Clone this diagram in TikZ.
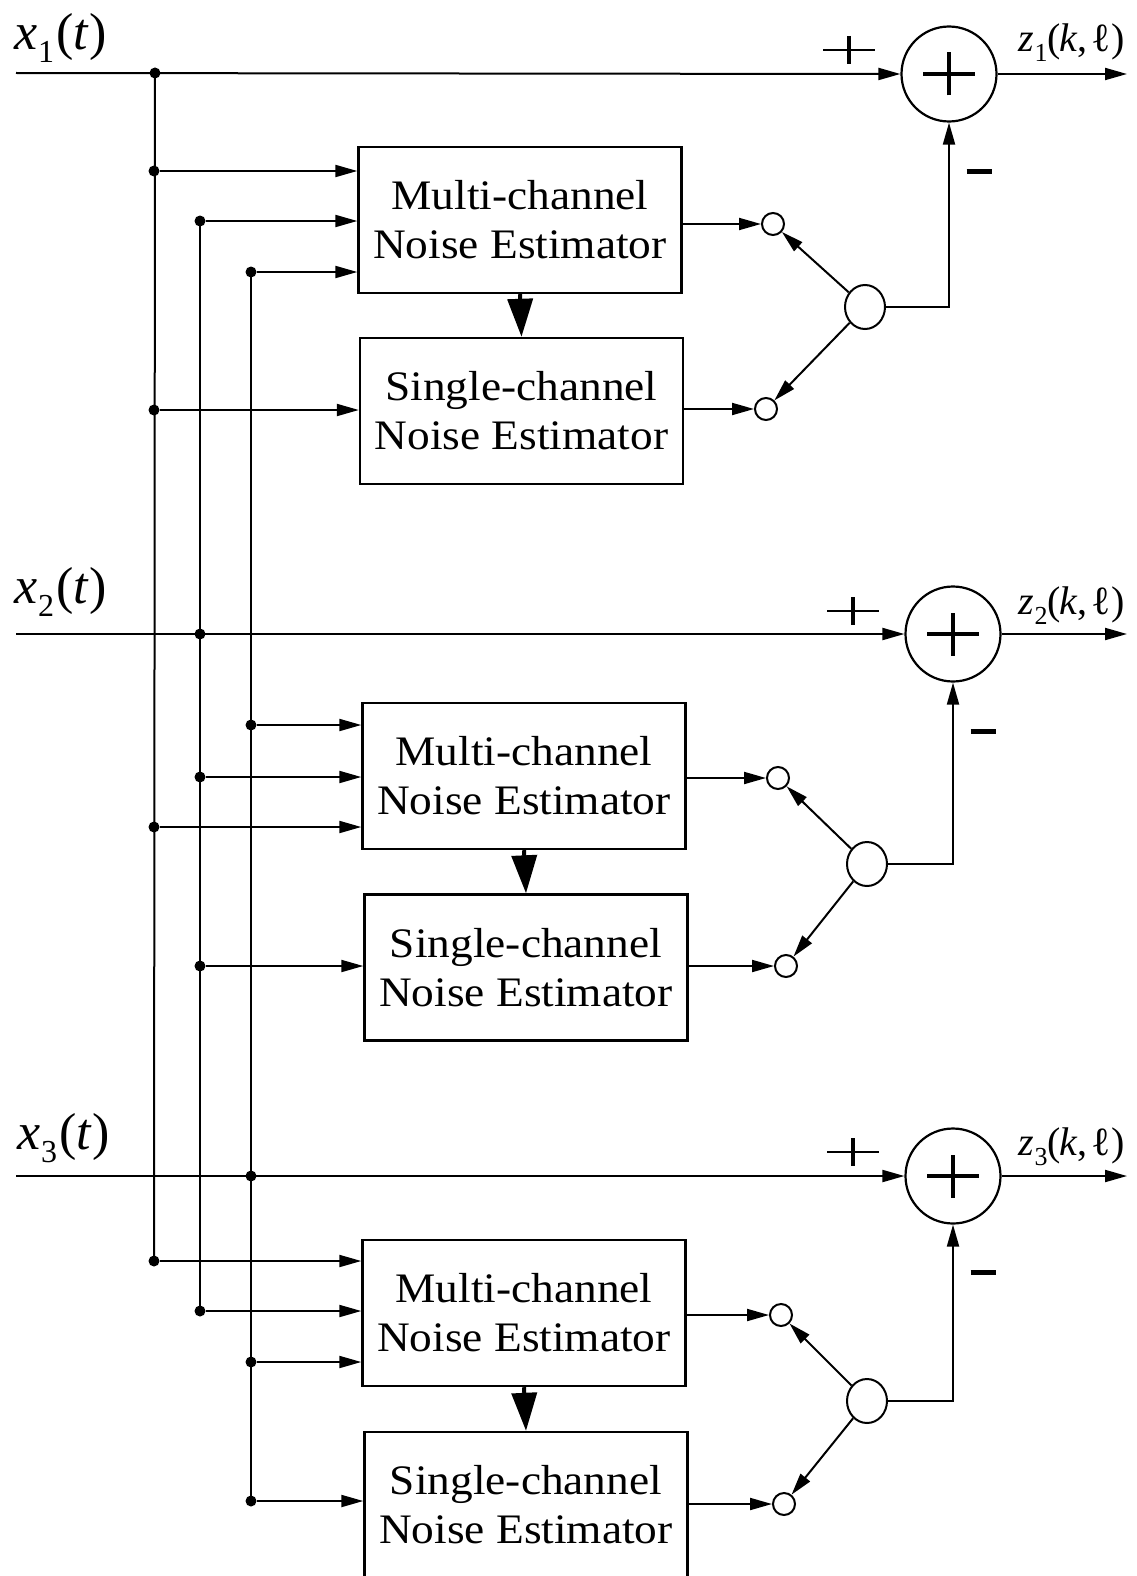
\documentclass[tikz,border=0pt]{standalone}
\usepackage{fontspec}
\setmainfont{Liberation Serif}
\newfontfamily\boxfont{Liberation Serif}[FakeStretch=1.08]
\usetikzlibrary{arrows.meta,shapes.geometric}
\newcommand{\xin}[1]{{\itshape x}\raisebox{-0.25em}{\fontsize{32}{32}\selectfont #1}\kern2pt({\itshape t}\kern2pt)}
\newcommand{\zout}[1]{{\itshape z}\raisebox{-0.25em}{\fontsize{26}{26}\selectfont #1}(\kern-1pt{\itshape k},\kern4pt ℓ\kern1pt)}
\begin{document}
\begin{tikzpicture}[x=1pt,y=-1pt,
  ln/.style={line width=2pt},
  arr/.style={line width=2pt,-{Triangle[length=22pt,width=12pt]}},
  bigarr/.style={line width=4pt,-{Triangle[length=38pt,width=25pt]}},
  blk/.style={draw,line width=2.4pt,minimum width=323pt,minimum height=146pt,align=center,
    font=\boxfont\fontsize{42}{49}\selectfont,inner sep=0pt},
  sumc/.style={circle,draw,line width=2.2pt,minimum size=95pt,inner sep=0pt},
  tap/.style={circle,draw,line width=2pt,minimum size=22pt,inner sep=0pt},
  swc/.style={ellipse,draw,line width=2pt,minimum width=40pt,minimum height=44pt,inner sep=0pt},
  dot/.style={circle,fill,minimum size=11pt,inner sep=0pt},
  inlbl/.style={inner sep=0pt,font=\fontsize{52}{52}\selectfont},
  outlbl/.style={inner sep=0pt,font=\fontsize{40}{40}\selectfont},
  plusthin/.style={line width=2.4pt},
  signthick/.style={line width=4pt},
]
\clip (0,0) rectangle (1137,1576);
\fill[white] (0,0) rectangle (1137,1576);

% ---------- blocks ----------
\node[blk] (mc1) at (520,220) {Multi-channel\\Noise Estimator};
\node[blk] (sc1) at (521.5,411) {Single-channel\\Noise Estimator};
\node[blk] (mc2) at (524,776) {Multi-channel\\Noise Estimator};
\node[blk] (sc2) at (526,967.5) {Single-channel\\Noise Estimator};
\node[blk] (mc3) at (524,1313) {Multi-channel\\Noise Estimator};
\node[blk] (sc3) at (526,1505) {Single-channel\\Noise Estimator};

% ---------- summers ----------
\node[sumc] (sum1) at (949,74) {};
\node[sumc] (sum2) at (953,634) {};
\node[sumc] (sum3) at (953,1176) {};
\foreach \s in {sum1,sum2,sum3}{
  \draw[signthick] ([xshift=-26pt]\s.center) -- ([xshift=26pt]\s.center);
  \draw[signthick] ([yshift=-21.5pt]\s.center) -- ([yshift=21.5pt]\s.center);
}

% ---------- taps and switches ----------
\node[tap] (t1a) at (773,224) {};
\node[tap] (t1b) at (766,409) {};
\node[swc] (s1) at (865,307) {};
\node[tap] (t2a) at (778,778) {};
\node[tap] (t2b) at (786,966) {};
\node[swc] (s2) at (867,864) {};
\node[tap] (t3a) at (781,1315) {};
\node[tap] (t3b) at (784,1504) {};
\node[swc] (s3) at (867,1401) {};

% ---------- labels ----------
\node[inlbl] (lx1) at (61,38) {\xin{1}};
\node[inlbl] (lx2) at (61,592) {\xin{2}};
\node[inlbl] (lx3) at (64,1138) {\xin{3}};
\node[outlbl] (lz1) at (1072,43) {\zout{1}};
\node[outlbl] (lz2) at (1072,606) {\zout{2}};
\node[outlbl] (lz3) at (1072,1147) {\zout{3}};

% plus / minus signs
\foreach \px/\py in {849/50, 853/611, 853/1152}{
  \draw[plusthin] (\px-26,\py) -- (\px+26,\py);
  \draw[line width=3.2pt] (\px,\py-14) -- (\px,\py+14);
}
\foreach \mx/\my in {979/171, 983/731, 983/1272}{
  \draw[line width=5pt] (\mx-12.5,\my) -- (\mx+12.5,\my);
}

% ---------- input lines ----------
\coordinate (in1) at (16,73);
\coordinate (in2) at (16,634);
\coordinate (in3) at (16,1176);
\draw[arr] (in1) -- (sum1.west);
\draw[arr] (in2) -- (sum2.west);
\draw[arr] (in3) -- (sum3.west);

% ---------- output lines ----------
\coordinate (o1) at (1127,74);
\coordinate (o2) at (1127,634);
\coordinate (o3) at (1127,1176);
\draw[arr] (sum1.east) -- (o1);
\draw[arr] (sum2.east) -- (o2);
\draw[arr] (sum3.east) -- (o3);

% ---------- junction dots ----------
% bus A (x1), x = 155
\node[dot] (a0) at (155,73) {};
\node[dot] (a1) at (154,171) {};
\node[dot] (a2) at (154,410) {};
\node[dot] (a3) at (154,827) {};
\node[dot] (a4) at (154,1261) {};
% bus B (x2), x = 200
\node[dot] (b1) at (200,221) {};
\node[dot] (b0) at (200,634) {};
\node[dot] (b2) at (200,777) {};
\node[dot] (b3) at (200,966) {};
\node[dot] (b4) at (200,1311) {};
% bus C (x3), x = 251
\node[dot] (c1) at (251,272) {};
\node[dot] (c2) at (251,725) {};
\node[dot] (c0) at (251,1176) {};
\node[dot] (c3) at (251,1362) {};
\node[dot] (c4) at (251,1501) {};

% bus verticals
\draw[ln] (a0.center) -- (a4.center);
\draw[ln] (b1.center) -- (b4.center);
\draw[ln] (c1.center) -- (c4.center);

% block inputs
\draw[arr] (a1) -- (mc1.west |- a1);
\draw[arr] (b1) -- (mc1.west |- b1);
\draw[arr] (c1) -- (mc1.west |- c1);
\draw[arr] (a2) -- (sc1.west |- a2);
\draw[arr] (c2) -- (mc2.west |- c2);
\draw[arr] (b2) -- (mc2.west |- b2);
\draw[arr] (a3) -- (mc2.west |- a3);
\draw[arr] (b3) -- (sc2.west |- b3);
\draw[arr] (a4) -- (mc3.west |- a4);
\draw[arr] (b4) -- (mc3.west |- b4);
\draw[arr] (c3) -- (mc3.west |- c3);
\draw[arr] (c4) -- (sc3.west |- c4);

% multi -> single thick arrows
\draw[bigarr] (mc1.south) -- (sc1.north);
\draw[bigarr] (mc2.south) -- (sc2.north);
\draw[bigarr] (mc3.south) -- (sc3.north);

% block outputs to taps
\draw[arr] (mc1.east |- t1a) -- (t1a.west);
\draw[arr] (sc1.east |- t1b) -- (t1b.west);
\draw[arr] (mc2.east |- t2a) -- (t2a.west);
\draw[arr] (sc2.east |- t2b) -- (t2b.west);
\draw[arr] (mc3.east |- t3a) -- (t3a.west);
\draw[arr] (sc3.east |- t3b) -- (t3b.west);

% switch arms
\draw[arr] (s1) -- (t1a);
\draw[arr] (s1) -- (t1b);
\draw[arr] (s2) -- (t2a);
\draw[arr] (s2) -- (t2b);
\draw[arr] (s3) -- (t3a);
\draw[arr] (s3) -- (t3b);

% switch to summer (minus input)
\draw[arr] (s1.east) -| (sum1.south);
\draw[arr] (s2.east) -| (sum2.south);
\draw[arr] (s3.east) -| (sum3.south);
\end{tikzpicture}
\end{document}
